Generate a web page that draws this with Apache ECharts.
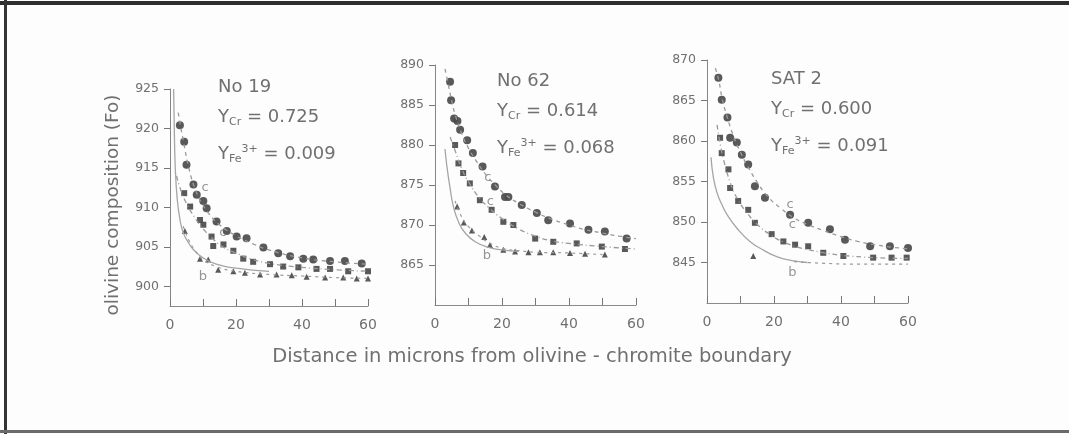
<!DOCTYPE html>
<html>
<head>
<meta charset="utf-8">
<script src="https://cdn.jsdelivr.net/npm/echarts@6/dist/echarts.min.js"></script>
<style>
  html, body { margin: 0; padding: 0; background: #fdfdfd; }
  #chart { width: 1069px; height: 434px; }
</style>
</head>
<body>
<div id="chart"></div>
<script>
// ---- Sample No 19 ----
var no19Upper = [[3.0,920.4],[4.3,918.3],[5.0,915.4],[7.1,912.9],[8.1,911.6],[10.1,910.8],[11.1,909.9],[14.1,908.2],[17.2,907.0],[20.2,906.3],[23.2,906.1],[28.3,904.9],[32.8,904.2],[36.4,903.8],[40.4,903.5],[43.4,903.4],[48.5,903.2],[53.0,903.2],[58.1,902.9]];
var no19Middle = [[4.3,911.8],[6.1,910.1],[9.1,908.4],[10.1,907.8],[12.6,906.3],[13.1,905.1],[16.2,905.3],[19.2,904.5],[22.2,903.5],[25.2,903.1],[30.3,902.8],[34.3,902.5],[38.9,902.4],[44.4,902.2],[48.5,902.2],[54.0,901.9],[60.0,901.9]];
var no19Lower = [[4.5,907.0],[9.1,903.5],[11.6,903.4],[14.6,902.1],[19.2,901.9],[22.7,901.7],[27.3,901.5],[32.3,901.5],[36.9,901.4],[41.4,901.2],[47.0,901.1],[52.5,901.1],[56.6,901.0],[60.0,901.0]];
var no19CurveUpper = [[2.5,922.0],[4,918.5],[6,914.5],[8,911.9],[10,910.3],[12,909.1],[15,907.8],[20,906.4],[25,905.4],[30,904.6],[40,903.6],[50,903.1],[60,902.8]];
var no19CurveMiddle = [[2,914.0],[3,912.5],[5,910.5],[8,908.4],[10,907.3],[13,906.0],[16,905.0],[20,904.2],[25,903.4],[30,902.9],[40,902.4],[50,902.1],[60,901.9]];
var no19CurveLower = [[4,907.6],[6,905.6],[8,904.3],[10,903.4],[14,902.5],[20,901.9],[30,901.5],[40,901.3],[50,901.1],[60,901.0]];
var no19CurveB = [[1.1,925.0],[1.3,920.0],[1.6,915.0],[2.2,911.0],[3,908.5],[4,906.8],[5.5,905.6],[7,904.7],[10,903.6],[14,902.8],[20,902.3],[30,901.9]];
var no19Tags = [[10.6,912.5,'c'],[16.0,906.8,'c'],[10.0,901.2,'b']];
var no19Ticks = [900, 905, 910, 915, 920, 925];

// ---- Sample No 62 ----
var no62Upper = [[4.5,887.9],[4.8,885.6],[5.7,883.3],[6.7,883.0],[7.5,881.9],[9.6,880.6],[11.3,879.0],[14.2,877.3],[17.9,874.8],[20.9,873.5],[21.9,873.5],[25.9,872.5],[30.4,871.5],[33.8,870.6],[40.3,870.2],[45.8,869.4],[50.7,869.2],[57.2,868.3]];
var no62Middle = [[6.0,880.0],[7.0,877.7],[8.4,876.5],[10.4,875.2],[13.4,873.1],[16.9,871.9],[20.4,870.4],[23.4,870.0],[29.9,868.3],[35.3,867.9],[42.3,867.7],[49.8,867.3],[56.7,867.0]];
var no62Lower = [[6.6,872.3],[8.6,870.3],[11.0,869.3],[14.7,868.5],[16.4,867.5],[20.4,866.9],[23.9,866.7],[27.9,866.6],[31.3,866.6],[35.3,866.6],[40.3,866.5],[44.8,866.4],[50.7,866.3]];
var no62CurveUpper = [[3,889.5],[4,887.5],[5,885.5],[6,883.8],[8,881.4],[10,879.6],[12,878.2],[15,876.4],[18,875.0],[21,873.8],[25,872.7],[30,871.6],[35,870.7],[40,870.0],[45,869.4],[50,869.0],[55,868.6],[60,868.3]];
var no62CurveMiddle = [[4.5,881.0],[6,879.3],[8,877.0],[10,875.4],[13,873.5],[16,872.2],[20,870.8],[25,869.5],[30,868.6],[35,868.0],[40,867.7],[50,867.3],[60,867.0]];
var no62CurveLower = [[6,873.0],[8,871.0],[10,869.8],[13,868.7],[16,867.8],[20,867.1],[25,866.8],[30,866.6],[40,866.5],[50,866.3]];
var no62CurveB = [[3,879.5],[3.5,877.5],[4.5,874.6],[5.5,872.3],[7,870.4],[9,869.0],[12,867.9],[16,867.2],[20,866.9],[25,866.7]];
var no62Tags = [[15.8,875.9,'c'],[16.5,872.9,'c'],[15.5,866.2,'b']];
var no62Ticks = [865, 870, 875, 880, 885, 890];

// ---- Sample SAT 2 ----
var sat2Upper = [[3.4,867.8],[4.4,865.1],[6.1,862.9],[6.9,860.4],[8.9,859.8],[10.4,858.3],[12.3,857.1],[14.3,854.4],[17.3,853.0],[24.8,850.9],[30.2,849.9],[36.7,849.1],[41.2,847.8],[48.7,847.0],[54.6,847.0],[60.0,846.8]];
var sat2Middle = [[3.9,860.4],[4.4,858.5],[6.4,856.5],[6.9,854.2],[9.3,852.6],[12.3,851.5],[14.3,849.9],[19.3,848.5],[22.8,847.6],[26.3,847.2],[30.2,847.0],[34.7,846.2],[40.7,845.8],[49.6,845.6],[55.1,845.6],[59.6,845.6]];
var sat2Lower = [[13.8,845.8]];
var sat2CurveUpper = [[2.5,869.0],[3.5,867.5],[4.5,865.3],[6,863.0],[8,860.5],[10,858.6],[12,857.0],[15,854.9],[18,853.2],[22,851.7],[26,850.5],[30,849.7],[35,848.9],[40,848.2],[45,847.6],[50,847.2],[55,846.9],[60,846.7]];
var sat2CurveMiddle = [[3,862.0],[4,859.5],[5,857.6],[7,854.8],[9,852.9],[12,851.1],[15,849.7],[19,848.4],[23,847.5],[27,846.9],[30,846.6],[35,846.2],[40,845.9],[50,845.6],[60,845.5]];
var sat2CurveLower = [[26,845.1],[35,844.9],[45,844.8],[60,844.8]];
var sat2CurveB = [[1.2,858.0],[1.9,855.5],[3,853.6],[4.5,852.1],[6,850.9],[9,849.2],[12.8,847.6],[17,846.5],[21,845.7],[26,845.2],[30,845.0]];
var sat2Tags = [[24.8,852.2,'c'],[25.5,849.7,'c'],[25.5,843.7,'b']];
var sat2Ticks = [845, 850, 855, 860, 865, 870];

var distanceLabels = [0, 20, 40, 60];
var distanceTicks = [0, 10, 20, 30, 40, 50, 60];

var panelNames = ['No 19', 'No 62', 'SAT 2'];
var yCrValues = ['0.725', '0.614', '0.600'];
var yFeValues = ['0.009', '0.068', '0.091'];

var FONT = 'DejaVu Sans';
var INK = '#4b4b4b';
var TEXT = '#707070';
var CURVE = '#9a9a9a';

var panels = [
  { grid: { left: 170, top: 89, width: 198, height: 217 }, yMin: 897.5, yMax: 925,
    upper: no19Upper, middle: no19Middle, lower: no19Lower,
    cUpper: no19CurveUpper, cMiddle: no19CurveMiddle, cLower: no19CurveLower, cB: no19CurveB,
    tags: no19Tags, ticks: no19Ticks, textX: 218, textY: 88 },
  { grid: { left: 435, top: 65, width: 201, height: 240 }, yMin: 860, yMax: 890,
    upper: no62Upper, middle: no62Middle, lower: no62Lower,
    cUpper: no62CurveUpper, cMiddle: no62CurveMiddle, cLower: no62CurveLower, cB: no62CurveB,
    tags: no62Tags, ticks: no62Ticks, textX: 497, textY: 82 },
  { grid: { left: 707, top: 60, width: 201, height: 243 }, yMin: 840, yMax: 870,
    upper: sat2Upper, middle: sat2Middle, lower: sat2Lower,
    cUpper: sat2CurveUpper, cMiddle: sat2CurveMiddle, cLower: sat2CurveLower, cB: sat2CurveB,
    tags: sat2Tags, ticks: sat2Ticks, textX: 771, textY: 80 }
];

var grids = [], xAxes = [], yAxes = [], series = [], graphics = [];

panels.forEach(function (p, i) {
  grids.push(p.grid);
  xAxes.push({
    gridIndex: i, type: 'value', min: 0, max: 60,
    axisLine: { lineStyle: { color: '#8a8a8a', width: 1 } },
    axisTick: { inside: true, length: 7, customValues: distanceTicks, lineStyle: { color: '#777' } },
    axisLabel: { customValues: distanceLabels, margin: 12, fontSize: 14, color: TEXT, fontFamily: FONT },
    splitLine: { show: false }
  });
  yAxes.push({
    gridIndex: i, type: 'value', min: p.yMin, max: p.yMax,
    axisLine: { show: true, lineStyle: { color: '#858585', width: 1 } },
    axisTick: { show: true, length: 6, customValues: p.ticks, lineStyle: { color: '#777' } },
    axisLabel: { customValues: p.ticks, margin: 11, fontSize: 12.5, color: TEXT, fontFamily: FONT },
    splitLine: { show: false }
  });

  function curve(data, type, width, color) {
    series.push({ type: 'line', xAxisIndex: i, yAxisIndex: i, data: data, smooth: true,
      symbol: 'none', silent: true,
      lineStyle: { color: color || CURVE, width: width || 1.2, type: type } });
  }
  curve(p.cB, 'solid', 1.3, '#a5a5a5');
  curve(p.cUpper, [4, 4], 1.3);
  curve(p.cMiddle, [5, 3, 1, 3], 1.3);
  curve(p.cLower, [3, 4], 1.2);

  function dots(data, symbol, size) {
    series.push({ type: 'scatter', xAxisIndex: i, yAxisIndex: i, data: data,
      symbol: symbol, symbolSize: size, itemStyle: { color: INK, opacity: 0.92 } });
  }
  dots(p.upper, 'circle', 8);
  dots(p.middle, 'rect', 6);
  dots(p.lower, 'triangle', 6);

  // curve letters
  series.push({ type: 'scatter', xAxisIndex: i, yAxisIndex: i, symbol: 'circle', symbolSize: 1,
    itemStyle: { color: 'rgba(0,0,0,0)' }, silent: true,
    data: p.tags.map(function (t) { return { value: [t[0], t[1]], name: t[2] }; }),
    label: { show: true, position: 'inside', formatter: '{b}', fontSize: 13, color: '#7a7a7a', fontFamily: FONT } });

  // sample name and site fractions
  var rich = {
    m: { fontSize: 18, fill: TEXT, fontFamily: FONT },
    sub: { fontSize: 11, fill: TEXT, fontFamily: FONT, padding: [10, 0, 0, 0] },
    sup: { fontSize: 11, fill: TEXT, fontFamily: FONT, padding: [0, 0, 10, 0] }
  };
  graphics.push({ type: 'text', left: p.textX, top: p.textY - 10,
    style: { text: panelNames[i], font: '18px ' + FONT, fill: TEXT } });
  graphics.push({ type: 'text', left: p.textX, top: p.textY + 20,
    style: { text: '{m|Y}{sub|Cr}{m| = ' + yCrValues[i] + '}', rich: rich } });
  graphics.push({ type: 'text', left: p.textX, top: p.textY + 56,
    style: { text: '{m|Y}{sub|Fe}{sup|3+}{m| = ' + yFeValues[i] + '}', rich: rich } });
});

// shared axis titles
graphics.push({ type: 'text', x: 113, y: 205, rotation: Math.PI / 2,
  style: { text: 'olivine composition (Fo)', font: '18.5px ' + FONT, fill: TEXT, align: 'center', verticalAlign: 'middle' } });
graphics.push({ type: 'text', x: 532, y: 357,
  style: { text: 'Distance in microns from olivine - chromite boundary', font: '19.5px ' + FONT, fill: TEXT, align: 'center', verticalAlign: 'middle' } });

// figure frame
graphics.push({ type: 'rect', shape: { x: 0, y: 1, width: 1069, height: 4 }, style: { fill: '#2e2e2e' } });
graphics.push({ type: 'rect', shape: { x: 4, y: 0, width: 3, height: 434 }, style: { fill: '#333' } });
graphics.push({ type: 'rect', shape: { x: 0, y: 430, width: 1069, height: 3 }, style: { fill: '#6a6a6a' } });

var chart = echarts.init(document.getElementById('chart'), null, { renderer: 'canvas' });
chart.setOption({
  backgroundColor: '#fdfdfd',
  animation: false,
  grid: grids,
  xAxis: xAxes,
  yAxis: yAxes,
  series: series,
  graphic: graphics
});
</script>
</body>
</html>
